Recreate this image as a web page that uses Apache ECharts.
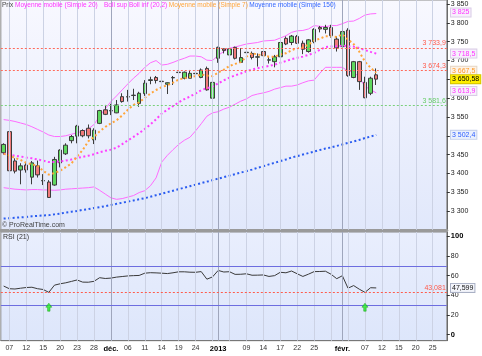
<!DOCTYPE html>
<html><head><meta charset="utf-8">
<script src="https://cdn.jsdelivr.net/npm/echarts@6/dist/echarts.min.js"></script>
<style>html,body{margin:0;padding:0;background:#fff}#c{width:482px;height:356px}</style>
</head><body><div id="c"></div>
<script>
// ---- data (trading days, CAC 40 daily, Nov 2012 - Feb 2013) ----
const dates = [
 '2012-11-06','2012-11-07','2012-11-08','2012-11-09','2012-11-12','2012-11-13','2012-11-14','2012-11-15','2012-11-16','2012-11-19','2012-11-20','2012-11-21','2012-11-22','2012-11-23','2012-11-26','2012-11-27','2012-11-28','2012-11-29','2012-11-30',
 '2012-12-03','2012-12-04','2012-12-05','2012-12-06','2012-12-07','2012-12-10','2012-12-11','2012-12-12','2012-12-13','2012-12-14','2012-12-17','2012-12-18','2012-12-19','2012-12-20','2012-12-21','2012-12-24','2012-12-27','2012-12-28','2012-12-31',
 '2013-01-02','2013-01-03','2013-01-04','2013-01-07','2013-01-08','2013-01-09','2013-01-10','2013-01-11','2013-01-14','2013-01-15','2013-01-16','2013-01-17','2013-01-18','2013-01-21','2013-01-22','2013-01-23','2013-01-24','2013-01-25','2013-01-28','2013-01-29','2013-01-30','2013-01-31',
 '2013-02-01','2013-02-04','2013-02-05','2013-02-06','2013-02-07','2013-02-08','2013-02-11','2013-02-12','2013-02-13','2013-02-14','2013-02-15','2013-02-18','2013-02-19','2013-02-20','2013-02-21','2013-02-22','2013-02-25','2013-02-26','2013-02-27'
];
const opens  = [3455,3511,3433,3409,3422,3390,3420,3380,3377,3369,3428,3452,3487,3499,3514,3520,3489,3533,3569,3566,3561,3604,3603,3607,3586,3612,3647,3655,3645,3637,3654,3668,3653,3653,3665,3655,3679,3600,3706,3731,3715,3735,3695,3721,3719,3709,3724,3701,3697,3710,3759,3748,3764,3746,3724,3750,3788,3783,3788,3757,3737,3781,3655,3697,3642,3613,3662];
const highs  = [3480,3517,3440,3427,3428,3433,3434,3398,3382,3444,3464,3480,3502,3529,3517,3530,3520,3569,3582,3585,3595,3613,3622,3625,3617,3648,3657,3659,3653,3642,3659,3673,3671,3675,3686,3679,3684,3655,3737,3732,3733,3737,3733,3733,3724,3719,3728,3710,3715,3759,3764,3768,3768,3753,3757,3786,3792,3795,3795,3764,3790,3786,3699,3699,3657,3657,3679];
const lows   = [3450,3404,3400,3371,3402,3371,3389,3369,3335,3367,3416,3449,3480,3480,3496,3493,3478,3531,3555,3555,3560,3588,3591,3595,3577,3606,3637,3639,3635,3611,3635,3653,3650,3652,3655,3653,3620,3597,3694,3719,3710,3703,3694,3712,3703,3684,3710,3692,3682,3708,3741,3741,3744,3717,3721,3746,3775,3772,3761,3724,3734,3657,3653,3622,3600,3608,3635];
const closes = [3477,3407,3406,3420,3409,3428,3396,3381,3336,3437,3462,3475,3498,3526,3500,3500,3515,3567,3557,3567,3582,3591,3604,3608,3613,3640,3649,3647,3644,3641,3655,3669,3669,3666,3666,3675,3622,3642,3735,3727,3731,3706,3708,3722,3708,3710,3713,3702,3710,3748,3744,3765,3746,3730,3755,3783,3784,3788,3766,3734,3777,3660,3697,3644,3601,3653,3650.58];
const ma7    = [3452,3448,3441,3436,3428,3424,3420.4,3406.7,3396.6,3401,3407,3416.4,3426.4,3445,3462,3485.4,3496.6,3511.6,3523.3,3533.1,3541.1,3554.1,3569,3582.3,3588.9,3600.7,3612.4,3621.7,3629.3,3634.6,3641.3,3649.3,3653.4,3655.9,3658.6,3663,3660.3,3658.4,3667.9,3676.1,3685.4,3691.1,3695.9,3710.1,3719.6,3716,3714,3709.9,3710.4,3716.1,3719.3,3727.4,3732.6,3735,3742.6,3753,3758.1,3764.4,3764.6,3762.9,3769.6,3756,3743.7,3723.7,3697,3680.9,3667.5];
const ma20   = [3452,3450,3447,3445,3442,3440,3437,3434,3430,3430,3432,3434,3437,3441,3444,3447,3451,3456,3460,3463.2,3468.5,3477.7,3487.6,3497,3507.2,3517.8,3530.4,3543.7,3559.1,3569.3,3579,3588.7,3597.2,3604.2,3612.5,3621.3,3626.6,3630.4,3639.3,3647.3,3654.7,3660.5,3665.7,3671.4,3676.1,3679.6,3682.8,3685.6,3688.9,3694.2,3698.7,3703.5,3707.3,3710.5,3715,3720.4,3728.5,3735.8,3737.3,3737.7,3740,3737.7,3737.1,3733.2,3727.9,3723,3718.5];
const bollUp = [3543,3541,3538,3534,3530,3524,3517,3510,3502,3498,3498,3500,3504,3508,3512,3518,3530,3552,3572,3591,3606,3622,3638,3653,3666,3682,3694,3700,3688,3690,3695,3701,3706,3712,3712,3710,3701,3700,3714,3724,3733,3736,3740,3744,3746,3748,3752,3753,3754,3760,3766,3775,3779,3780,3784,3793,3791,3790,3793,3793,3798,3804,3805,3812,3821,3824,3825];
const bollLow= [3362,3360,3358,3357,3356,3357,3357,3356,3356,3355,3356,3358,3359,3360,3361,3362,3364,3355,3345,3335,3331,3333,3337,3341,3349,3354,3367,3388,3430,3448,3463,3477,3488,3496,3513,3532,3552,3561,3564,3571,3576,3584,3592,3598,3607,3611,3614,3618,3624,3628,3632,3632,3635,3641,3646,3648,3666,3682,3682,3682,3682,3672,3670,3655,3631,3623,3613.9];
const ma150  = [3280,3281,3282,3283,3284,3286,3287,3288,3289,3291,3293,3296,3298,3300,3303,3305,3308,3310,3313,3316,3319,3322,3325,3328,3331,3334,3338,3342,3346,3350,3354,3358,3362,3366,3370,3374,3378,3382,3386,3390,3394,3398,3402,3406,3410,3415,3419,3424,3428,3433,3437,3442,3446,3450,3454,3458,3462,3466,3469,3473,3477,3481,3485,3489,3494,3498,3502.4];
const rsi    = [49.5,46.8,46.5,47.3,48.0,48.3,46.8,46.0,43.1,50.4,51.8,52.8,54.2,55.7,53.5,53.4,54.3,58.0,57.2,57.6,58.6,59.2,59.8,60.1,60.3,62.6,63.1,62.9,62.6,62.2,63.0,64.0,64.0,63.6,63.5,64.2,56.5,58.8,65.4,63.8,64.1,61.4,61.5,62.0,60.5,60.6,60.8,59.3,60.1,63.5,63.0,64.8,62.0,59.3,61.6,64.2,64.3,64.6,61.5,57.0,60.0,47.3,50.0,46.3,43.1,47.8,47.599];
const priceTicks = [3300,3350,3400,3450,3500,3550,3600,3650,3700,3750,3800,3850];
const rsiTicks = [0,20,40,60,80,100];
const priceRefRed = [3733.9, 3674.3];
const priceRefGreen = [3581.6];
const rsiBands = [70, 30];
const rsiRef = [43.081];
const signalDates = ['2012-11-16','2013-02-07'];
const signalLevel = 28;
const gridDates = ['2012-11-07','2012-11-12','2012-11-15','2012-11-20','2012-11-23','2012-11-28','2012-12-03','2012-12-06','2012-12-11','2012-12-14','2012-12-19','2012-12-24','2012-12-31','2013-01-04','2013-01-09','2013-01-14','2013-01-17','2013-01-22','2013-01-25','2013-01-30','2013-02-04','2013-02-07','2013-02-12','2013-02-15','2013-02-20','2013-02-25'];
const monthDates = ['2012-12-03','2013-01-02','2013-02-01'];
const xLabelDates = ['2012-11-07','2012-11-12','2012-11-15','2012-11-20','2012-11-23','2012-11-28','2012-12-03','2012-12-06','2012-12-11','2012-12-14','2012-12-19','2012-12-24','2013-01-02','2013-01-09','2013-01-14','2013-01-17','2013-01-22','2013-01-25','2013-02-01','2013-02-07','2013-02-12','2013-02-15','2013-02-20','2013-02-25'];
const xLabelTexts = ['07','12','15','20','23','28','déc.','06','11','14','19','24','2013','09','14','17','22','25','févr.','07','12','15','20','25'];
const legendTexts = ['Prix','Moyenne mobile (Simple 20)','Boll sup Boll inf (20,2)','Moyenne mobile (Simple 7)','Moyenne mobile (Simple 150)'];

// ---- helpers ----
const FONT = '"Liberation Sans", Arial, sans-serif';
function fmt(v){ const s = String(v); const p = s.split('.'); return p[0].replace(/\B(?=(\d{3})+(?!\d))/g,' ') + (p[1] ? ','+p[1] : ''); }
const labelMap = {}; xLabelDates.forEach((d,i)=>labelMap[d]=xLabelTexts[i]);
const boldSet = new Set(monthDates);
const candleData = opens.map((o,i)=>[o, closes[i], lows[i], highs[i]]);
const lightGrid = '#ccd2e4', darkGrid = '#9fa6bc';
function vLines(){
  return gridDates.map(d=>({xAxis:d, lineStyle:{color:lightGrid,width:1,type:'solid'}}))
   .concat(monthDates.map(d=>({xAxis:d, lineStyle:{color:darkGrid,width:1,type:'solid'}})));
}
const mlBase = {silent:true, symbol:['none','none'], animation:false, label:{show:false}};

const chart = echarts.init(document.getElementById('c'), null, {renderer:'canvas', width:482, height:356});
const GL = 0.83, GR = 35.2;
const option = {
  animation:false,
  backgroundColor:'#ffffff',
  grid:[
    {left:GL, right:GR, top:0, height:229.8, show:true, borderColor:'#8a8a8a', borderWidth:1,
     backgroundColor:new echarts.graphic.LinearGradient(0,0,0,1,[{offset:0,color:'#f8f8ff'},{offset:1,color:'#e1e8fb'}])},
    {left:GL, right:GR, top:232, height:108.7, show:true, borderColor:'#8a8a8a', borderWidth:1,
     backgroundColor:new echarts.graphic.LinearGradient(0,0,0,1,[{offset:0,color:'#e9eefd'},{offset:1,color:'#dde6fb'}])}
  ],
  xAxis:[
    {gridIndex:0, type:'category', data:dates, boundaryGap:true,
     axisLine:{show:true, onZero:false, lineStyle:{color:'#9a9a9a', width:3}},
     axisTick:{show:false}, axisLabel:{show:false}, splitLine:{show:false}},
    {gridIndex:1, type:'category', data:dates, boundaryGap:true,
     axisLine:{show:true, onZero:false, lineStyle:{color:'#777'}},
     axisTick:{show:false}, splitLine:{show:false},
     axisLabel:{interval:(i,v)=>labelMap[v]!==undefined, margin:4, fontSize:7, color:'#333', fontFamily:FONT,
       formatter:(v)=> boldSet.has(v) ? '{b|'+labelMap[v]+'}' : labelMap[v],
       rich:{b:{fontWeight:'bold', color:'#000', fontSize:7.5, fontFamily:FONT}}}}
  ],
  yAxis:[
    {gridIndex:0, type:'value', position:'right', min:3250, max:3861,
     axisLine:{show:true, lineStyle:{color:'#6b6b6b'}},
     axisTick:{show:true, customValues:priceTicks, length:3, lineStyle:{color:'#333'}},
     axisLabel:{customValues:priceTicks, formatter:(v)=>fmt(v), fontSize:7, color:'#222', margin:4, fontFamily:FONT},
     splitLine:{show:false}},
    {gridIndex:1, type:'value', position:'right', min:-6.1, max:104.5,
     axisLine:{show:true, lineStyle:{color:'#6b6b6b'}},
     axisTick:{show:true, customValues:rsiTicks, length:3, lineStyle:{color:'#333'}},
     axisLabel:{customValues:rsiTicks, fontSize:7, color:'#222', margin:4, fontFamily:FONT,
       formatter:(v)=> (v===0||v===100) ? '{b|'+v+'}' : String(v),
       rich:{b:{fontWeight:'bold', color:'#000', fontSize:7.5, fontFamily:FONT}}},
     splitLine:{show:false}}
  ],
  series:[
    {type:'line', xAxisIndex:0, yAxisIndex:0, data:closes, showSymbol:false, silent:true, z:1,
     lineStyle:{opacity:0}, markLine:Object.assign({}, mlBase, {data:vLines()})},
    {type:'line', xAxisIndex:0, yAxisIndex:0, data:bollUp, showSymbol:false, silent:true, z:2,
     lineStyle:{color:'#ff6cff', width:1}},
    {type:'line', xAxisIndex:0, yAxisIndex:0, data:bollLow, showSymbol:false, silent:true, z:2,
     lineStyle:{color:'#ff6cff', width:1}},
    {type:'candlestick', xAxisIndex:0, yAxisIndex:0, data:candleData, barWidth:4, z:3, silent:true,
     itemStyle:{color:'#5fd85f', color0:'#f07a7a', borderColor:'#3c3c3c', borderColor0:'#3c3c3c', borderWidth:1},
     markLine:Object.assign({}, mlBase, {
       data: priceRefRed.map(v=>({yAxis:v, lineStyle:{color:'#ff6a5a', width:1, type:[2,2]},
                label:{show:true, position:'insideEndTop', formatter:fmt(v), color:'#ff5a4a', fontSize:7, fontFamily:FONT, distance:1}}))
         .concat(priceRefGreen.map(v=>({yAxis:v, lineStyle:{color:'#7ad07a', width:1, type:[2,2]},
                label:{show:true, position:'insideEndTop', formatter:fmt(v), color:'#66cc66', fontSize:7, fontFamily:FONT, distance:1}})))
     })},
    {type:'line', xAxisIndex:0, yAxisIndex:0, data:ma20, showSymbol:false, silent:true, z:4,
     lineStyle:{color:'#ff40ff', width:2, type:[2,2.5]}},
    {type:'line', xAxisIndex:0, yAxisIndex:0, data:ma7, showSymbol:false, silent:true, z:4,
     lineStyle:{color:'#ffa53a', width:2, type:[2,2.5]}},
    {type:'line', xAxisIndex:0, yAxisIndex:0, data:ma150, showSymbol:false, silent:true, z:4,
     lineStyle:{color:'#2a5cf0', width:2, type:[2,2.5]}},
    {type:'line', xAxisIndex:1, yAxisIndex:1, data:rsi, showSymbol:false, silent:true, z:1,
     lineStyle:{opacity:0}, markLine:Object.assign({}, mlBase, {data:vLines()})},
    {type:'line', xAxisIndex:1, yAxisIndex:1, data:rsi, showSymbol:false, silent:true, z:4,
     lineStyle:{color:'#3a3a3a', width:1},
     markLine:Object.assign({}, mlBase, {
       data: rsiBands.map(v=>({yAxis:v, lineStyle:{color:'#6d6de0', width:1, type:'solid'}}))
         .concat(rsiRef.map(v=>({yAxis:v, lineStyle:{color:'#ff5a4a', width:1, type:[2,2]},
           label:{show:true, position:'insideEndTop', formatter:fmt(v), color:'#ff5a4a', fontSize:7, fontFamily:FONT, distance:1}})))
     })},
    {type:'scatter', xAxisIndex:1, yAxisIndex:1, silent:true, z:5,
     data: signalDates.map(d=>[d, signalLevel]),
     symbol:'path://M5,0 L10,5 L7,5 L7,10 L3,10 L3,5 L0,5 Z', symbolSize:[6,8],
     itemStyle:{color:'#22ee22', borderColor:'#119911', borderWidth:0.6}}
  ]
};
chart.setOption(option);

// ---- texts and right-side value badges ----
const gfx = [];
const LFONT = '6.5px ' + FONT;
const mctx = document.createElement('canvas').getContext('2d');
mctx.font = LFONT;
const legendX = [2, 15, 104, 162, 244];
const legendCol = ['#444', '#ff33ff', '#ff33ff', '#ffa53a', '#3366ff'];
let lx = 0;
legendTexts.forEach((t,i)=>{
  const x = Math.max(legendX[i], lx);
  gfx.push({type:'text', x:x, y:5, z:20, silent:true,
    style:{text:t, fill:legendCol[i], font:LFONT, verticalAlign:'middle'}});
  lx = x + mctx.measureText(t).width + 1.5;
});
gfx.push({type:'text', x:2, y:225, z:20, silent:true, style:{text:'© ProRealTime.com', fill:'#444', font:'7px '+FONT, verticalAlign:'middle'}});
gfx.push({type:'text', x:3, y:237, z:20, silent:true, style:{text:'RSI (21)', fill:'#333', font:'7px '+FONT, verticalAlign:'middle'}});

const last = a => a[a.length-1];
const badges = [
  {v:last(bollUp),  fill:'#ff33ff', bg:'#f7f0fc', bc:'#d9cce6', dy:-1},
  {v:last(ma20),    fill:'#ff33ff', bg:'#f7f0fc', bc:'#d9cce6', dy:0},
  {v:last(ma7),     fill:'#ff9a2a', bg:'#fdf2e6', bc:'#e6d6c4', dy:-2},
  {v:last(bollLow), fill:'#ff33ff', bg:'#f7f0fc', bc:'#d9cce6', dy:-2},
  {v:last(ma150),   fill:'#2b5cff', bg:'#eaf0fd', bc:'#c5d0ea', dy:0},
  {v:last(closes),  fill:'#000000', bg:'#ffee00', bc:'#d6c600', dy:0}
];
badges.forEach(b=>{
  const y = chart.convertToPixel({yAxisIndex:0}, b.v) + b.dy;
  gfx.push({type:'text', x:451, y:y, z:30, silent:true,
    style:{text:fmt(b.v), fill:b.fill, font:'7px '+FONT, verticalAlign:'middle',
      backgroundColor:b.bg, borderColor:b.bc, borderWidth:1, padding:[1,1,0,1]}});
});
const ry = chart.convertToPixel({yAxisIndex:1}, last(rsi));
gfx.push({type:'text', x:451, y:ry, z:30, silent:true,
  style:{text:fmt(last(rsi)), fill:'#111', font:'7px '+FONT, verticalAlign:'middle',
    backgroundColor:'#f3f5fb', borderColor:'#a9b0c4', borderWidth:1, padding:[1,1,0,1]}});
chart.setOption({graphic:gfx});
</script>
</body></html>
